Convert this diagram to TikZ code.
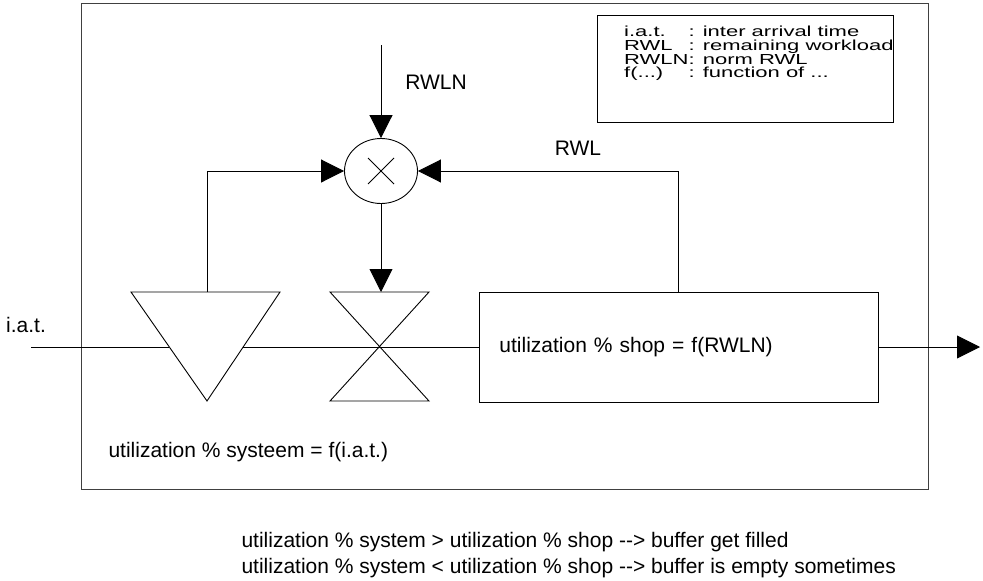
\documentclass[tikz,border=0pt]{standalone}
\usepackage{fontspec}
\setmainfont{Liberation Sans}
\usepackage{tikz}
\usetikzlibrary{arrows.meta,positioning,shapes.geometric}

\begin{document}
\begin{tikzpicture}[
    x=1pt, y=-1pt,
    every node/.style={font=\fontsize{21}{26}\selectfont},
    frame/.style={draw=black!75, line width=0.9pt},
    block/.style={rectangle, draw, line width=0.9pt, minimum width=399pt, minimum height=110pt, text width=359pt, inner xsep=20pt, align=left},
    multiplier/.style={ellipse, draw, line width=0.9pt, minimum width=73pt, minimum height=65pt, inner sep=0pt},
    legendbox/.style={rectangle, draw, line width=0.9pt, minimum width=296pt, minimum height=107pt, inner sep=0pt},
    flow/.style={line width=0.9pt},
    arrow/.style={-{Triangle[length=23pt,width=23pt]}, line width=0.9pt}
]
\useasboundingbox (0,0) rectangle (983,581);

% Frame
\draw[frame] (81,3) rectangle (928,489);

% Legend
\node[legendbox, anchor=north west] (legend) at (597,15) {};
\node[anchor=north west, inner sep=0pt] (legendtext) at (624,26) {\scalebox{1}[0.66]{\fontsize{22}{17.2}\selectfont
  \begin{tabular}{@{}l@{}l@{}}
  i.a.t. & : inter arrival time\\
  RWL & : remaining workload\\
  RWLN & : norm RWL\\
  f(...) & : function of ...
  \end{tabular}}};

% Multiplier
\node[multiplier] (mult) at (381,171) {};
\draw[flow] ([shift={(-13,-13)}]mult.center) -- ([shift={(13,13)}]mult.center);
\draw[flow] ([shift={(-13,13)}]mult.center) -- ([shift={(13,-13)}]mult.center);

% Inputs
\coordinate (rwlnin) at (381,45);
\node (rwlnlabel) at (436,82) {RWLN};
\node (rwllabel) at (578,148) {RWL};

% Buffer
\coordinate (buftop) at (207,292);
\coordinate (bufleft) at (169,347);
\coordinate (bufright) at (243,347);
\draw[flow] (131,292) -- (280,292) -- (207,401) -- cycle;

% Valve
\coordinate (valvetop) at (381,292);
\draw[flow] (330,292) -- (429,292) -- (330,401) -- (429,401) -- cycle;

% Shop
\node[block, anchor=west] (shop) at (479,347) {utilization \% shop = f(RWLN)};
\coordinate (rwlout) at (678,292);
\coordinate (flowin) at (31,347);
\coordinate (flowout) at (980,347);

% Arrows
\draw[arrow] (rwlnin) -- (mult.north);
\draw[arrow] (buftop) |- (mult.west);
\draw[arrow] (rwlout) |- (mult.east);
\draw[arrow] (mult.south) -- (valvetop);
\draw[flow] (flowin) -- (bufleft);
\draw[flow] (bufright) -- (shop.west);
\draw[arrow] (shop.east) -- (flowout);

% Labels
\node (iat) at (26,325) {i.a.t.};
\node[anchor=west] (systeem) at (105,452) {utilization \% systeem = f(i.a.t.)};
\node[anchor=west, align=left] (rules) at (238,555) {utilization \% system > utilization \% shop -\kern0pt-\kern0pt> buffer get filled\\
utilization \% system < utilization \% shop -\kern0pt-\kern0pt> buffer is empty sometimes};

\end{tikzpicture}
\end{document}
